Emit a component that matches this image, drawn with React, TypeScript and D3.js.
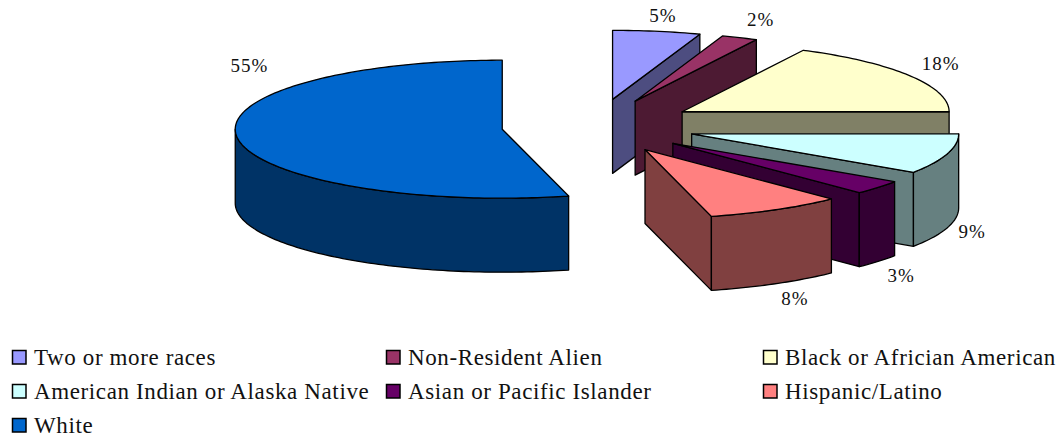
import React from "react";
import * as d3 from "d3";

const categories = [
  "Two or more races",
  "Non-Resident Alien",
  "Black or Africian American",
  "American Indian or Alaska Native",
  "Asian or Pacific Islander",
  "Hispanic/Latino",
  "White",
];
const shares = [5.3, 2.2, 17.5, 9.4, 3.3, 8.3, 54];
const percentLabels = ["5%", "2%", "18%", "9%", "3%", "8%", "55%"];
const colors = ["#9999FF", "#993366", "#FFFFCC", "#CCFFFF", "#660066", "#FF8080", "#0066CC"];

const W = 1059, H = 436;
const RX = 267, RY = 69, DEPTH = 74;
const EXPLODE_CX = 596, EXPLODE_CY = 126, EXPLODE_X = 100, EXPLODE_Y = 27;
const explodeFactor = [1, 1, 1.01, 1, 1, 1, 0.945];
const labelNudge: [number, number][] = [[6, -14], [21, -16], [31, -10], [25, 6], [23, 16], [19, 17], [12, -70]];
const legendCols = [12, 386, 763];
const legendRows = [358, 392, 426];
const FONT = "'Liberation Serif', serif";

const arcs = d3.pie<number>().sort(null)(shares);
const dim = (c: string) => {
  const r = d3.rgb(c);
  return d3.rgb(r.r / 2, r.g / 2, r.b / 2).formatHex();
};
const line = d3.line<[number, number]>();

function geom(i: number) {
  const a = arcs[i];
  const mid = (a.startAngle + a.endAngle) / 2;
  const f = explodeFactor[i];
  const ax = EXPLODE_CX + f * EXPLODE_X * Math.sin(mid);
  const ay = EXPLODE_CY - f * EXPLODE_Y * Math.cos(mid);
  const pt = (t: number, dz = 0): [number, number] => [ax + RX * Math.sin(t), ay - RY * Math.cos(t) + dz];
  return { a, mid, ax, ay, pt };
}
const steps = (s: number, e: number) => {
  const n = Math.max(2, Math.ceil((e - s) / 0.02));
  return d3.range(n + 1).map((k) => s + ((e - s) * k) / n);
};

function Slice({ i }: { i: number }) {
  const { a, ax, ay, pt } = geom(i);
  const c = colors[i];
  const wall = dim(c);
  const s = a.startAngle, e = a.endAngle;
  const showRadial = e < Math.PI;
  const os = Math.max(s, Math.PI / 2), oe = Math.min(e, (3 * Math.PI) / 2);
  const showOuter = oe > os;
  const stroke = { stroke: "#000", strokeWidth: 1.3, strokeLinejoin: "round" as const };
  const top: [number, number][] = [[ax, ay], ...steps(s, e).map((t) => pt(t))];
  return (
    <g>
      {showRadial && (
        <path
          d={line([[ax, ay], pt(e), pt(e, DEPTH), [ax, ay + DEPTH]])! + "Z"}
          fill={wall}
          {...stroke}
        />
      )}
      {showOuter && (
        <path
          d={line([...steps(os, oe).map((t) => pt(t)), ...steps(os, oe).reverse().map((t) => pt(t, DEPTH))])! + "Z"}
          fill={wall}
          {...stroke}
        />
      )}
      <path d={line(top)! + "Z"} fill={c} {...stroke} />
    </g>
  );
}

export default function App() {
  return (
    <svg width={W} height={H} style={{ position: "absolute", left: 0, top: 0, background: "#fff" }}>
      {categories.map((_, i) => <Slice key={i} i={i} />)}
      {percentLabels.map((t, i) => {
        const { mid, pt } = geom(i);
        const front = mid > Math.PI / 2 && mid < Math.PI;
        const [x, y] = pt(mid, front ? DEPTH : 0);
        return (
          <text key={t} x={x + labelNudge[i][0]} y={y + labelNudge[i][1]} textAnchor="middle" dominantBaseline="middle"
            fontFamily={FONT} fontSize={19} letterSpacing={1} fill="#111">{t}</text>
        );
      })}
      {categories.map((t, i) => {
        const col = i % 3, row = Math.floor(i / 3);
        const x = legendCols[col], y = legendRows[row];
        return (
          <g key={t}>
            <rect x={x + 0.5} y={y - 7.5} width={13.5} height={13.5} fill={colors[i]} stroke="#000" strokeWidth={1.5} />
            <text x={x + 22} y={y + 7} fontFamily={FONT} fontSize={23} letterSpacing={0.62} fill="#111">{t}</text>
          </g>
        );
      })}
    </svg>
  );
}
